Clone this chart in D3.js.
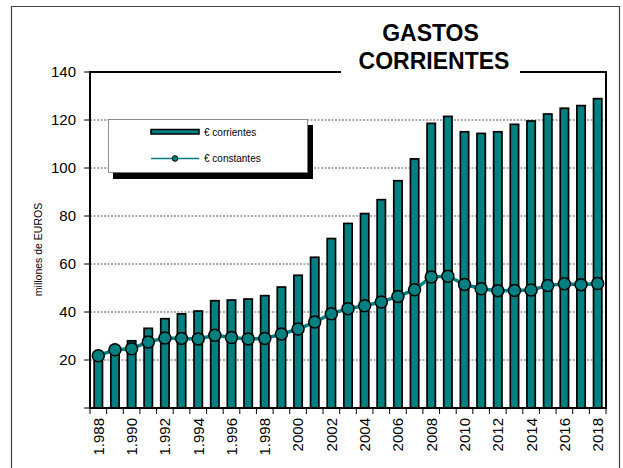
<!DOCTYPE html>
<html><head><meta charset="utf-8">
<script src="https://cdn.jsdelivr.net/npm/d3@7"></script>
<style>body{margin:0;background:#fff}svg{display:block}text{font-family:"Liberation Sans",Arial,sans-serif}</style>
</head><body>
<svg id="c" width="623" height="468"></svg>
<script>
const years = [1988,1989,1990,1991,1992,1993,1994,1995,1996,1997,1998,1999,2000,2001,2002,2003,2004,2005,2006,2007,2008,2009,2010,2011,2012,2013,2014,2015,2016,2017,2018];
const corrientes = [21.5,23.5,28,33.2,37.2,39.2,40.4,44.7,45,45.4,46.8,50.4,55.3,62.8,70.6,76.9,81,86.8,94.7,103.8,118.6,121.5,115.1,114.4,115.1,118.2,119.6,122.5,124.9,126,128.9];
const constantes = [21.8,24.3,24.7,27.5,29.2,29.0,28.8,30.3,29.4,28.8,29.0,30.8,32.9,35.8,39.3,41.4,42.6,44.2,46.5,49.3,54.6,54.9,51.5,49.7,48.9,49.0,49.2,51.0,51.8,51.4,51.9];
const yTicks = [0,20,40,60,80,100,120,140];
const yTickLabels = ["","20","40","60","80","100","120","140"];
const xLabelYears = [1988,1990,1992,1994,1996,1998,2000,2002,2004,2006,2008,2010,2012,2014,2016,2018];
const xLabels = ["1.988","1.990","1.992","1.994","1.996","1.998","2000","2002","2004","2006","2008","2010","2012","2014","2016","2018"];
const titleLines = ["GASTOS","CORRIENTES"];
const seriesNames = ["€ corrientes","€ constantes"];
const yAxisTitle = "millones de EUROS";

const teal = "#008080";
const svg = d3.select("#c");
const L = 90, R = 606, T = 72, B = 408;

const x = d3.scaleBand().domain(years).range([L, R]).paddingInner(0.5).paddingOuter(0.25);
const xEdge = d3.scaleBand().domain(years).range([L, R]).padding(0);
const y = d3.scaleLinear().domain([0, 140]).range([B, T]);

// outer frame
svg.append("path").attr("d", "M11.5,468V6.5H619.5V468").attr("fill", "none").attr("stroke", "#444").attr("stroke-width", 1.2);

// gridlines
svg.append("g").selectAll("line").data(yTicks.filter(v => v > 0 && v < 140)).join("line")
  .attr("x1", L).attr("x2", R).attr("y1", d => y(d)).attr("y2", d => y(d))
  .attr("stroke", "#333").attr("stroke-width", 0.8).attr("stroke-dasharray", "2,1.5");

// bars
svg.append("g").selectAll("rect").data(years).join("rect")
  .attr("x", d => x(d)).attr("width", x.bandwidth())
  .attr("y", (d, i) => y(corrientes[i])).attr("height", (d, i) => y(0) - y(corrientes[i]))
  .attr("fill", teal).attr("stroke", "#000").attr("stroke-width", 1.7);

// line
const cx = d => x(d) + x.bandwidth() / 2;
svg.append("path").datum(years)
  .attr("d", d3.line().x(d => cx(d)).y((d, i) => y(constantes[i])))
  .attr("fill", "none").attr("stroke", teal).attr("stroke-width", 3.5);
svg.append("g").selectAll("circle").data(years).join("circle")
  .attr("cx", d => cx(d)).attr("cy", (d, i) => y(constantes[i])).attr("r", 6)
  .attr("fill", teal).attr("stroke", "#000").attr("stroke-width", 1.5);

// axes
const ax = svg.append("g").attr("stroke", "#000").attr("fill", "none");
ax.append("line").attr("x1", L).attr("x2", L).attr("y1", T).attr("y2", B + 1).attr("stroke-width", 2);
ax.append("line").attr("x1", L - 1).attr("x2", R + 1).attr("y1", B).attr("y2", B).attr("stroke-width", 2);
ax.append("line").attr("x1", R).attr("x2", R).attr("y1", T - 1).attr("y2", B).attr("stroke-width", 2);
ax.append("line").attr("x1", L - 1).attr("x2", 341).attr("y1", T).attr("y2", T).attr("stroke-width", 2);
ax.append("line").attr("x1", 520).attr("x2", R + 1).attr("y1", T).attr("y2", T).attr("stroke-width", 2);

// y ticks
const yt = svg.append("g");
yt.selectAll("line").data(yTicks).join("line")
  .attr("x1", L - 6).attr("x2", L).attr("y1", d => y(d)).attr("y2", d => y(d))
  .attr("stroke", "#000").attr("stroke-width", 1);
yt.selectAll("text").data(yTicks).join("text")
  .attr("x", 76).attr("y", d => y(d)).attr("dy", "0.36em").attr("text-anchor", "end")
  .attr("font-size", 15).attr("fill", "#000").text((d, i) => yTickLabels[i]);

// x ticks at category boundaries
const edges = years.map(d => xEdge(d)).concat([R]);
svg.append("g").selectAll("line").data(edges).join("line")
  .attr("x1", d => d).attr("x2", d => d).attr("y1", B).attr("y2", B + 6)
  .attr("stroke", "#000").attr("stroke-width", 1);
svg.append("g").selectAll("text").data(xLabelYears).join("text")
  .attr("transform", d => `translate(${cx(d)},${B + 10}) rotate(-90)`)
  .attr("dy", "0.36em").attr("text-anchor", "end").attr("font-size", 15).attr("fill", "#000")
  .text((d, i) => xLabels[i]);

// y axis title
svg.append("text").attr("transform", "translate(42,249.5) rotate(-90)")
  .attr("text-anchor", "middle").attr("font-size", 10.5).attr("fill", "#000").text(yAxisTitle);

// title
svg.append("g").selectAll("text").data(titleLines).join("text")
  .attr("x", (d, i) => i === 0 ? 430.5 : 434).attr("y", (d, i) => i === 0 ? 40.5 : 69)
  .attr("text-anchor", "middle").attr("font-size", 23).attr("font-weight", "bold").attr("fill", "#000")
  .text(d => d);

// legend
const lg = svg.append("g");
lg.append("rect").attr("x", 113).attr("y", 125).attr("width", 200).attr("height", 54).attr("fill", "#000");
lg.append("rect").attr("x", 108.5).attr("y", 119.5).attr("width", 199).attr("height", 53)
  .attr("fill", "#fff").attr("stroke", "#777").attr("stroke-width", 0.8);
lg.append("rect").attr("x", 151).attr("y", 129.5).attr("width", 48).attr("height", 4.5)
  .attr("fill", teal).attr("stroke", "#000").attr("stroke-width", 1.5);
lg.append("line").attr("x1", 151).attr("x2", 199).attr("y1", 158.5).attr("y2", 158.5)
  .attr("stroke", teal).attr("stroke-width", 1.5);
lg.append("circle").attr("cx", 175).attr("cy", 158.5).attr("r", 2.8)
  .attr("fill", teal).attr("stroke", "#000").attr("stroke-width", 1);
lg.selectAll("text.l").data(seriesNames).join("text").attr("class", "l")
  .attr("x", 204).attr("y", (d, i) => i === 0 ? 135.5 : 162)
  .attr("font-size", 10).attr("fill", "#000").text(d => d);
</script>
</body></html>
